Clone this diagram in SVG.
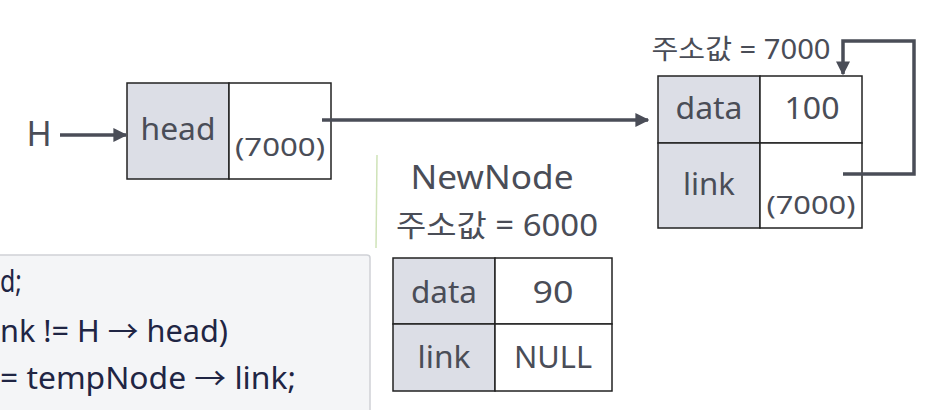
<svg xmlns="http://www.w3.org/2000/svg" width="930" height="410" viewBox="0 0 930 410">
<defs>
<marker id="ah" viewBox="0 0 10 10" refX="9" refY="5" markerWidth="4" markerHeight="4" orient="auto" markerUnits="strokeWidth"><path d="M0,0 L10,5 L0,10 z" fill="#4a4d57"/></marker>
<style>
.t{font-family:"Noto Sans","Noto Sans CJK KR",sans-serif;fill:#4a4d57;text-anchor:middle}
.c{font-family:"Noto Sans","Noto Sans CJK KR",sans-serif;fill:#1f2544;font-size:30px}
.g{fill:#dcdee6;stroke:#222;stroke-width:1.5}
.w{fill:#fff;stroke:#222;stroke-width:1.5}
.ln{fill:none;stroke:#4a4d57;stroke-width:3.5}
</style>
</defs>
<rect width="930" height="410" fill="#fff"/>
<g id="code">
<rect x="-5" y="255" width="375" height="170" fill="#f4f5f7" stroke="#cfd1d6" stroke-width="1.5" rx="3"/>
<text class="c" x="0" y="292" textLength="22" lengthAdjust="spacingAndGlyphs">d;</text>
<text class="c" x="0" y="342" textLength="228" lengthAdjust="spacingAndGlyphs">nk != H → head)</text>
<text class="c" x="0" y="389" textLength="296" lengthAdjust="spacingAndGlyphs">= tempNode → link;</text>
</g>
<line x1="377" y1="155" x2="376" y2="248" stroke="#cfe3b8" stroke-width="1.5"/>
<g id="H"><text class="t" x="39" y="146" font-size="34">H</text></g>
<g id="head">
<rect class="g" x="127" y="83" width="102" height="96"/>
<rect class="w" x="229" y="83" width="102" height="96"/>
<text class="t" x="178" y="140" font-size="30" textLength="75" lengthAdjust="spacingAndGlyphs">head</text>
<text class="t" x="280" y="156" font-size="25" textLength="90" lengthAdjust="spacingAndGlyphs">(7000)</text>
</g>
<g id="node7000">
<text class="t" x="741" y="59" font-size="27" textLength="179" lengthAdjust="spacingAndGlyphs">주소값 = 7000</text>
<rect class="g" x="658" y="76" width="102" height="67"/>
<rect class="w" x="760" y="76" width="102" height="67"/>
<rect class="g" x="658" y="143" width="102" height="85"/>
<rect class="w" x="760" y="143" width="102" height="85"/>
<text class="t" x="709" y="119" font-size="30" textLength="67" lengthAdjust="spacingAndGlyphs">data</text>
<text class="t" x="812" y="119" font-size="30" textLength="55" lengthAdjust="spacingAndGlyphs">100</text>
<text class="t" x="709" y="195" font-size="30" textLength="52" lengthAdjust="spacingAndGlyphs">link</text>
<text class="t" x="811" y="214" font-size="25" textLength="89" lengthAdjust="spacingAndGlyphs">(7000)</text>
</g>
<g id="newnode">
<text class="t" x="492" y="189" font-size="32" textLength="163" lengthAdjust="spacingAndGlyphs">NewNode</text>
<text class="t" x="497" y="236" font-size="30" textLength="202" lengthAdjust="spacingAndGlyphs">주소값 = 6000</text>
<rect class="g" x="393" y="258" width="102" height="66"/>
<rect class="w" x="495" y="258" width="117" height="66"/>
<rect class="g" x="393" y="324" width="102" height="67"/>
<rect class="w" x="495" y="324" width="117" height="67"/>
<text class="t" x="444" y="303" font-size="30" textLength="66" lengthAdjust="spacingAndGlyphs">data</text>
<text class="t" x="553" y="303" font-size="30" textLength="41" lengthAdjust="spacingAndGlyphs">90</text>
<text class="t" x="444" y="368" font-size="30" textLength="53" lengthAdjust="spacingAndGlyphs">link</text>
<text class="t" x="553" y="368" font-size="30" textLength="78" lengthAdjust="spacingAndGlyphs">NULL</text>
</g>
<g id="connectors">
<line class="ln" x1="60" y1="135" x2="126" y2="135" marker-end="url(#ah)"/>
<line class="ln" x1="322" y1="120" x2="648" y2="120" marker-end="url(#ah)"/>
<polyline class="ln" points="843,174 914,174 914,41 843,41 843,74" marker-end="url(#ah)"/>
</g>
</svg>
